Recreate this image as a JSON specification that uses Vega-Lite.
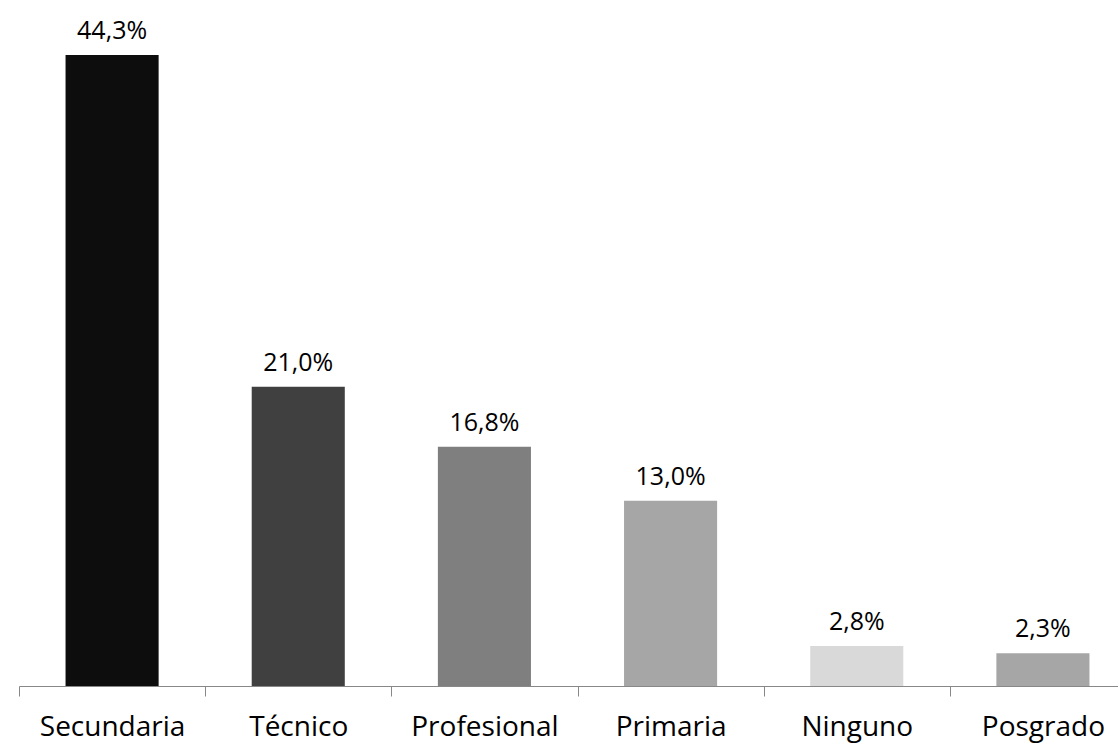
{
  "$schema": "https://vega.github.io/schema/vega-lite/v6.json",
  "autosize": {"type": "none"},
  "padding": {"left": 19, "top": 0, "right": 0, "bottom": 59},
  "width": 1099,
  "height": 686,
  "background": "white",
  "config": {
    "view": {"stroke": null},
    "locale": {"number": {"decimal": ",", "thousands": ".", "grouping": [3], "currency": ["", " €"]}},
    "font": "Open Sans"
  },
  "data": {
    "values": [
      {"nivel": "Secundaria", "valor": 0.443},
      {"nivel": "Técnico", "valor": 0.210},
      {"nivel": "Profesional", "valor": 0.168},
      {"nivel": "Primaria", "valor": 0.130},
      {"nivel": "Ninguno", "valor": 0.028},
      {"nivel": "Posgrado", "valor": 0.023}
    ]
  },
  "encoding": {
    "x": {
      "field": "nivel",
      "type": "nominal",
      "sort": null,
      "scale": {"range": [0, 1117], "paddingInner": 0.5, "paddingOuter": 0.25},
      "axis": {
        "title": null,
        "labelAngle": 0,
        "labelFont": "Open Sans",
        "labelFontSize": 28,
        "labelColor": "#000000",
        "labelPadding": 17,
        "labelOffset": 93.08,
        "domainColor": "#888888",
        "domainWidth": 1,
        "tickColor": "#888888",
        "tickSize": 10,
        "tickOffset": -93.08,
        "labelBound": false,
        "labelOverlap": false
      }
    },
    "y": {
      "field": "valor",
      "type": "quantitative",
      "scale": {"domain": [0, 0.4816], "nice": false, "zero": true},
      "axis": null
    }
  },
  "layer": [
    {
      "mark": {"type": "bar"},
      "encoding": {
        "color": {
          "field": "nivel",
          "type": "nominal",
          "sort": null,
          "scale": {
            "domain": ["Secundaria", "Técnico", "Profesional", "Primaria", "Ninguno", "Posgrado"],
            "range": ["#0d0d0d", "#404040", "#7f7f7f", "#a6a6a6", "#d9d9d9", "#a6a6a6"]
          },
          "legend": null
        }
      }
    },
    {
      "mark": {"type": "text", "baseline": "alphabetic", "dy": -16, "fontSize": 25, "font": "Open Sans", "color": "#000000"},
      "encoding": {
        "text": {"field": "valor", "type": "quantitative", "format": ".1%"}
      }
    }
  ]
}
